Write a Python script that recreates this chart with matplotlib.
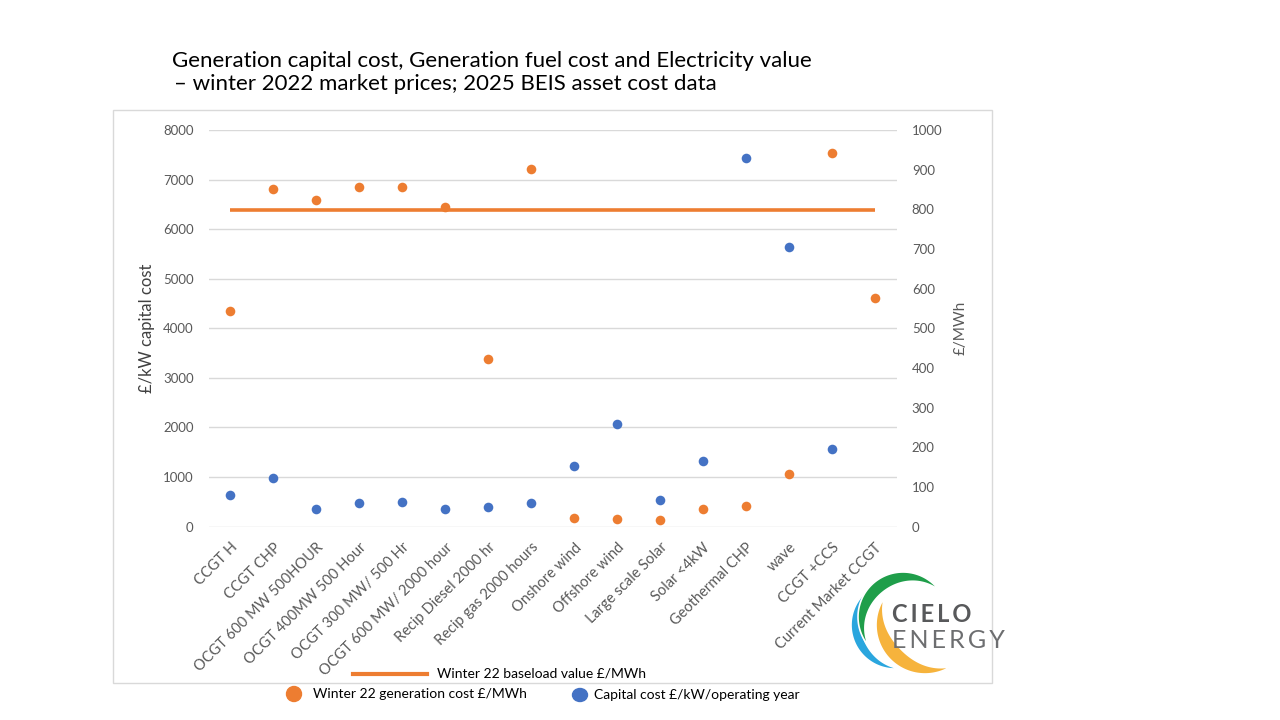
import numpy as np
import matplotlib
matplotlib.use("Agg")
import matplotlib.pyplot as plt
from matplotlib.patches import Polygon, Rectangle, Ellipse
from matplotlib.lines import Line2D

plt.rcParams['font.family'] = ['Lato', 'DejaVu Sans']

categories = ['CCGT H', 'CCGT CHP', 'OCGT 600 MW 500HOUR', 'OCGT 400MW 500 Hour',
              'OCGT 300 MW/ 500 Hr', 'OCGT 600 MW/ 2000 hour', 'Recip Diesel 2000 hr',
              'Recip gas 2000 hours', 'Onshore wind', 'Offshore wind', 'Large scale Solar',
              'Solar <4kW', 'Geothermal CHP', 'wave', 'CCGT +CCS', 'Current Market CCGT']
# left axis, £/kW/operating year
capital_cost = [636, 985, 353, 474, 488, 353, 400, 468, 1215, 2068, 535, 1315,
                7443, 5634, 1570, np.nan]
# right axis, £/MWh
gen_cost = [543, 850, 823, 856, 857, 805, 423, 902, 21, 18, 16, 45, 51, 133, 943, 577]
baseload = [797] * len(categories)

left_ticks = [0, 1000, 2000, 3000, 4000, 5000, 6000, 7000, 8000]
right_ticks = [0, 100, 200, 300, 400, 500, 600, 700, 800, 900, 1000]

ORANGE = '#ED7D31'
BLUE = '#4472C4'
GRID = '#D9D9D9'
TICK = '#595959'

W, H = 1280, 720
fig = plt.figure(figsize=(12.8, 7.2), dpi=100)
fig.patch.set_facecolor('white')

# overlay in pixel coords for the frame, legend, title and logo
ov = fig.add_axes([0, 0, 1, 1])
ov.set_xlim(0, W)
ov.set_ylim(H, 0)
ov.axis('off')

ov.add_patch(Rectangle((113, 110), 992 - 113, 683 - 110, fill=False,
                       edgecolor=GRID, lw=1))

# main chart
x = np.arange(len(categories))
ax = fig.add_axes([209 / W, 1 - 526.5 / H, 687.5 / W, 396.5 / H])
ax.set_facecolor('none')
ax2 = ax.twinx()

ax.set_xlim(-0.5, len(categories) - 0.5)
ax.set_ylim(0, 8000)
ax2.set_ylim(0, 1000)
ax.set_yticks(left_ticks)
ax2.set_yticks(right_ticks)
ax.yaxis.grid(True, color=GRID, lw=1)
ax.set_axisbelow(True)

for a in (ax, ax2):
    for s in a.spines.values():
        s.set_visible(False)
    a.tick_params(length=0, colors=TICK, labelsize=9.5)
ax.tick_params(axis='y', pad=11)
ax2.tick_params(axis='y', pad=11)

ax.set_xticks(x)
ax.set_xticklabels(categories, rotation=45, ha='right', va='top',
                   rotation_mode='anchor', fontsize=10.5, color=TICK)
ax.tick_params(axis='x', pad=10)

ax.scatter(x, capital_cost, s=48, color=BLUE, zorder=3, linewidths=0)
ax2.plot(x, baseload, color=ORANGE, lw=2.6, zorder=2, solid_capstyle='butt')
ax2.scatter(x, gen_cost, s=48, color=ORANGE, zorder=3, linewidths=0)

ax.set_ylabel('£/kW capital cost', fontsize=12, color='#404040', labelpad=6)
ax2.set_ylabel('£/MWh', fontsize=11, color=TICK, labelpad=8)

# title
fig.text(172 / W, 1 - 66.7 / H,
         'Generation capital cost, Generation fuel cost and Electricity value',
         fontsize=16, va='baseline', ha='left', color='#000000')
fig.text(174 / W, 1 - 90.5 / H,
         '– winter 2022 market prices; 2025 BEIS asset cost data',
         fontsize=16, va='baseline', ha='left', color='#000000')

# legend
ov.add_line(Line2D([353, 427], [673.7, 673.7], color=ORANGE, lw=3))
ov.text(437, 673.7, 'Winter 22 baseload value £/MWh', fontsize=10,
        va='center', ha='left', color='#000000')
ov.add_patch(Ellipse((294, 694), 15, 15, color=ORANGE))
ov.text(313, 694, 'Winter 22 generation cost £/MWh', fontsize=10,
        va='center', ha='left', color='#000000')
ov.add_patch(Ellipse((580, 695), 15, 13, color=BLUE))
ov.text(594, 695, 'Capital cost £/kW/operating year', fontsize=10,
        va='center', ha='left', color='#000000')


# logo: tapered crescents
def crescent(cx, cy, r, a1, a2, wmax, color):
    t = np.linspace(np.radians(a1), np.radians(a2), 80)
    w = wmax * np.sin(np.pi * (t - t[0]) / (t[-1] - t[0]))
    outer = np.c_[cx + r * np.cos(t), cy - r * np.sin(t)]
    ri = r - w
    inner = np.c_[cx + ri * np.cos(t), cy - ri * np.sin(t)][::-1]
    ov.add_patch(Polygon(np.vstack([outer, inner]), closed=True,
                         facecolor=color, edgecolor='white', lw=1.2))


crescent(895, 625, 44, 120, 277, 10, '#2AA6DE')
crescent(903, 617, 45, 36, 221, 13, '#1F9E4A')
crescent(925, 625, 49, 146, 302, 15, '#F6B33C')
ov.text(892, 615, 'C\u2009I\u2009E\u2009L\u2009O', fontsize=17, fontweight='bold',
        color='#58595B', va='center', ha='left')
ov.text(892, 641, 'E\u2009N\u2009E\u2009R\u2009G\u2009Y', fontsize=18,
        fontweight='normal', color='#6D6E70', va='center', ha='left')

fig.savefig('out.png', dpi=100)
